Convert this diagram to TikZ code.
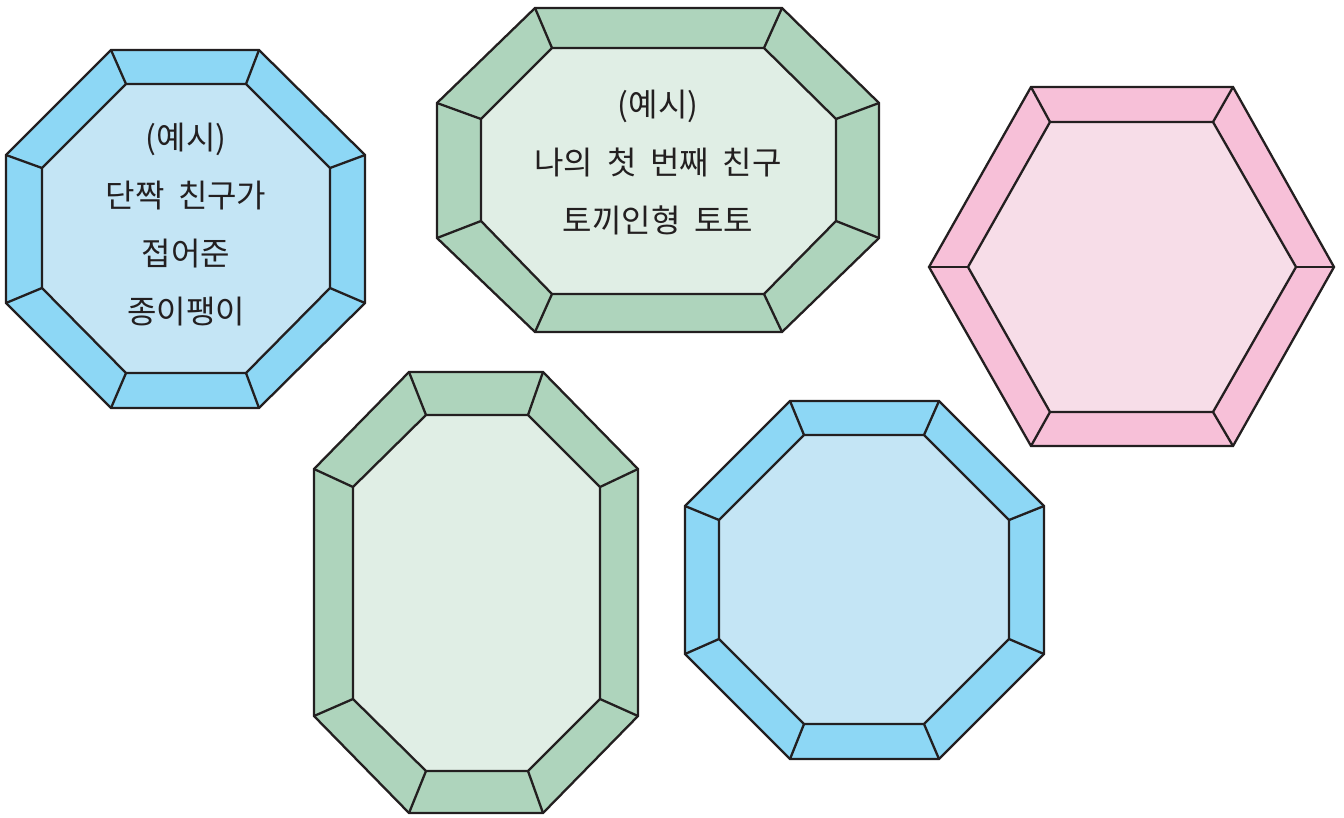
\documentclass[tikz,border=0pt]{standalone}
\usepackage{fontspec}
\newfontfamily\krfont[WordSpace=1.9]{Noto Sans CJK KR}
\definecolor{ink}{HTML}{231F20}
\definecolor{bluebd}{HTML}{8DD7F5}
\definecolor{bluein}{HTML}{C4E5F5}
\definecolor{greenbd}{HTML}{AED4BC}
\definecolor{greenin}{HTML}{E0EEE5}
\definecolor{pinkbd}{HTML}{F7C0D8}
\definecolor{pinkin}{HTML}{F7DDE8}
\tikzset{
  rim/.style={fill=#1, draw=ink},
  face/.style={fill=#1, draw=ink},
  spoke/.style={draw=ink},
  label/.style={align=center, text=ink, font=\krfont\fontsize{32}{58}\selectfont}
}
\begin{document}
\begin{tikzpicture}[x=1pt,y=-1pt,line width=2.3pt,line join=miter]
\useasboundingbox (0,0) rectangle (1344,817);
% shape 1 (blue octagon, top left)
\path[rim=bluebd] (111,50)--(259,50)--(365,155)--(365,303)--(259,408)--(111,408)--(6,303)--(6,155)--cycle;
\path[face=bluein] (126,84)--(246,84)--(330,168)--(330,288)--(246,373)--(126,373)--(42,288)--(42,168)--cycle;
\foreach \a/\b/\c/\d in {111/50/126/84,259/50/246/84,365/155/330/168,365/303/330/288,259/408/246/373,111/408/126/373,6/303/42/288,6/155/42/168}
  \draw[spoke] (\a,\b)--(\c,\d);
\node[label] (t1) at (186,225) {(예시)\\단짝 친구가\\접어준\\종이팽이};
% shape 2 (green octagon, top middle)
\path[rim=greenbd] (535,8)--(782,8)--(879,103)--(879,238)--(782,332)--(535,332)--(437,238)--(437,103)--cycle;
\path[face=greenin] (552,48)--(764,48)--(836,119)--(836,221)--(764,294)--(552,294)--(481,221)--(481,119)--cycle;
\foreach \a/\b/\c/\d in {535/8/552/48,782/8/764/48,879/103/836/119,879/238/836/221,782/332/764/294,535/332/552/294,437/238/481/221,437/103/481/119}
  \draw[spoke] (\a,\b)--(\c,\d);
\node[label] (t2) at (658,163) {(예시)\\나의 첫 번째 친구\\토끼인형 토토};
% shape 3 (pink hexagon)
\path[rim=pinkbd] (1031,87)--(1233,87)--(1334,267)--(1233,446)--(1031,446)--(929,267)--cycle;
\path[face=pinkin] (1050,122)--(1213,122)--(1296,267)--(1213,412)--(1050,412)--(968,267)--cycle;
\foreach \a/\b/\c/\d in {1031/87/1050/122,1233/87/1213/122,1334/267/1296/267,1233/446/1213/412,1031/446/1050/412,929/267/968/267}
  \draw[spoke] (\a,\b)--(\c,\d);
% shape 4 (green tall octagon)
\path[rim=greenbd] (409,372)--(543,372)--(638,469)--(638,716)--(543,813)--(409,813)--(314,716)--(314,469)--cycle;
\path[face=greenin] (426,415)--(528,415)--(600,487)--(600,699)--(528,771)--(426,771)--(353,699)--(353,487)--cycle;
\foreach \a/\b/\c/\d in {409/372/426/415,543/372/528/415,638/469/600/487,638/716/600/699,543/813/528/771,409/813/426/771,314/716/353/699,314/469/353/487}
  \draw[spoke] (\a,\b)--(\c,\d);
% shape 5 (blue octagon, bottom right)
\path[rim=bluebd] (790,401)--(939,401)--(1044,506)--(1044,654)--(939,759)--(790,759)--(685,654)--(685,506)--cycle;
\path[face=bluein] (804,435)--(924,435)--(1009,520)--(1009,639)--(924,724)--(804,724)--(719,639)--(719,520)--cycle;
\foreach \a/\b/\c/\d in {790/401/804/435,939/401/924/435,1044/506/1009/520,1044/654/1009/639,939/759/924/724,790/759/804/724,685/654/719/639,685/506/719/520}
  \draw[spoke] (\a,\b)--(\c,\d);
\end{tikzpicture}
\end{document}
